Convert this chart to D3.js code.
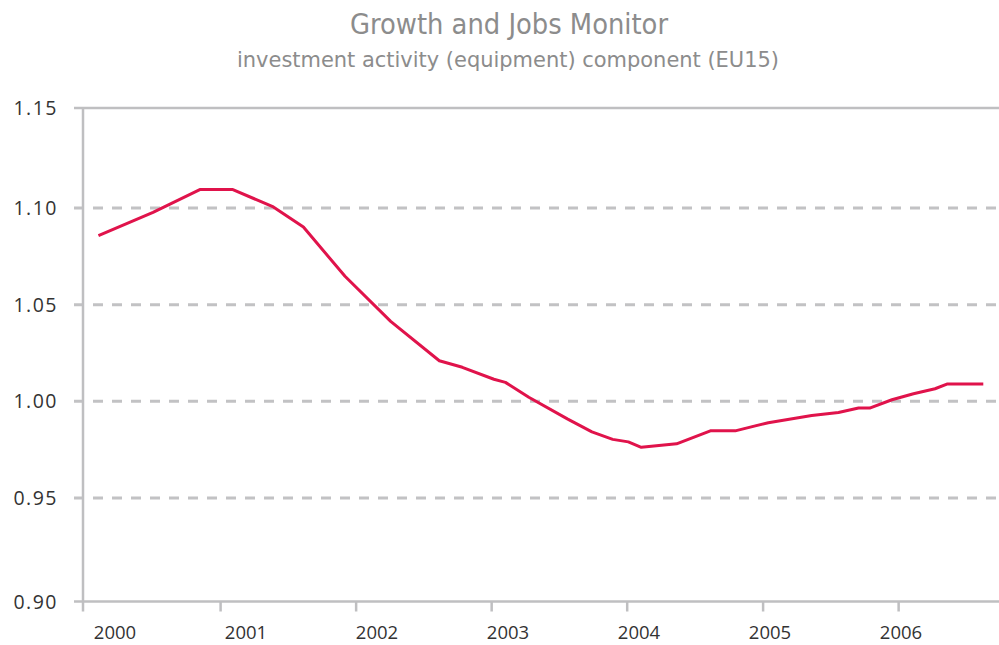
<!DOCTYPE html>
<html>
<head>
<meta charset="utf-8">
<script src="https://cdn.jsdelivr.net/npm/d3@7/dist/d3.min.js"></script>
<style>
  html, body { margin: 0; padding: 0; background: #ffffff; }
  svg { display: block; }
</style>
</head>
<body>
<svg id="chart" width="999" height="645"></svg>
<script>
// ---- Data ----
const title = "Growth and Jobs Monitor";
const subtitle = "investment activity (equipment) component (EU15)";

const dates = [
  "2000-02-07", "2000-07-03", "2000-11-06", "2001-02-03", "2001-05-23",
  "2001-08-12", "2001-12-02", "2002-04-04", "2002-08-13", "2002-10-14",
  "2003-01-07", "2003-02-07", "2003-04-11", "2003-07-25", "2003-09-28",
  "2003-11-23", "2004-01-04", "2004-02-08", "2004-05-13", "2004-08-12",
  "2004-10-18", "2004-12-11", "2005-01-15", "2005-05-12", "2005-07-23",
  "2005-09-15", "2005-10-15", "2005-12-14", "2006-02-10", "2006-04-09",
  "2006-05-11", "2006-08-17"
];
const values = [
  1.0858, 1.0978, 1.1096, 1.1096, 1.1006,
  1.0902, 1.0647, 1.0414, 1.0210, 1.0176,
  1.0114, 1.0098, 1.0021, 0.9908, 0.9842,
  0.9803, 0.9790, 0.9762, 0.9780, 0.9847,
  0.9847, 0.9873, 0.9889, 0.9927, 0.9942,
  0.9965, 0.9965, 1.0008, 1.0039, 1.0065,
  1.0089, 1.0089
];
const yTicks = [0.90, 0.95, 1.00, 1.05, 1.10, 1.15];
const xYears = [2000, 2001, 2002, 2003, 2004, 2005, 2006];

// ---- Layout ----
const svg = d3.select("#chart");
const parse = d3.timeParse("%Y-%m-%d");
const data = dates.map((d, i) => ({ date: parse(d), value: values[i] }));

const x = d3.scaleTime()
  .domain([new Date(2000, 0, 1), new Date(2006, 9, 1)])
  .range([84.7, 1000]);
const y = d3.scaleLinear()
  .domain([0.90, 1.15])
  .range([594.5, 111.5]);
const xLabel = d3.scaleLinear().domain([2000, 2006]).range([115, 901]);

const axisColor = "#bfbfc1";
const textFont = "'Open Sans', 'Liberation Sans', sans-serif";
const titleFont = "'Liberation Sans Narrow', 'DejaVu Sans Condensed', 'Open Sans', sans-serif";

// Title
svg.append("text")
  .attr("x", 509).attr("y", 34)
  .attr("text-anchor", "middle")
  .attr("font-family", titleFont)
  .attr("font-size", 28)
  .attr("fill", "#8c8c8c")
  .attr("textLength", 318)
  .attr("lengthAdjust", "spacingAndGlyphs")
  .text(title);
svg.append("text")
  .attr("x", 508).attr("y", 67)
  .attr("text-anchor", "middle")
  .attr("font-family", titleFont)
  .attr("font-size", 22)
  .attr("fill", "#8c8c8c")
  .attr("textLength", 542)
  .attr("lengthAdjust", "spacingAndGlyphs")
  .text(subtitle);

// Gridlines (dashed) for interior ticks
const gridTicks = yTicks.filter(t => t > 0.90 && t < 1.15);
svg.append("g").selectAll("line")
  .data(gridTicks)
  .join("line")
  .attr("x1", 74).attr("x2", 999)
  .attr("y1", d => y(d)).attr("y2", d => y(d))
  .attr("stroke", "#c2c2c4")
  .attr("stroke-width", 3)
  .attr("stroke-dasharray", "10 9");

// Top border line (1.15) and bottom axis (0.90)
const topY = y(1.15) - 3.5;
const botY = y(0.90) + 7;
svg.append("line")
  .attr("x1", 74).attr("x2", 999)
  .attr("y1", topY).attr("y2", topY)
  .attr("stroke", axisColor).attr("stroke-width", 2.5);
svg.append("line")
  .attr("x1", 74).attr("x2", 999)
  .attr("y1", botY).attr("y2", botY)
  .attr("stroke", axisColor).attr("stroke-width", 2.5);

// Y axis line
svg.append("line")
  .attr("x1", 83).attr("x2", 83)
  .attr("y1", topY).attr("y2", botY + 10)
  .attr("stroke", axisColor).attr("stroke-width", 2.5);

// X ticks
svg.append("g").selectAll("line")
  .data(xYears.slice(1))
  .join("line")
  .attr("x1", d => x(new Date(d, 0, 1))).attr("x2", d => x(new Date(d, 0, 1)))
  .attr("y1", botY).attr("y2", botY + 10)
  .attr("stroke", axisColor).attr("stroke-width", 2.5);

// X labels
svg.append("g").selectAll("text")
  .data(xYears)
  .join("text")
  .attr("x", d => xLabel(d))
  .attr("y", 639)
  .attr("text-anchor", "middle")
  .attr("font-family", textFont)
  .attr("font-size", 18.5)
  .attr("fill", "#333333")
  .text(d => d);

// Y labels
const yLabelPos = t => t === 1.15 ? topY : (t === 0.90 ? botY : y(t));
svg.append("g").selectAll("text")
  .data(yTicks)
  .join("text")
  .attr("x", 58)
  .attr("y", d => yLabelPos(d) + 7)
  .attr("text-anchor", "end")
  .attr("font-family", textFont)
  .attr("font-size", 19.5)
  .attr("letter-spacing", 1.5)
  .attr("fill", "#333333")
  .text(d => d.toFixed(2));

// Line
const line = d3.line()
  .x(d => x(d.date))
  .y(d => y(d.value));
svg.append("path")
  .datum(data)
  .attr("fill", "none")
  .attr("stroke", "#e0134b")
  .attr("stroke-width", 3)
  .attr("stroke-linejoin", "round")
  .attr("d", line);
</script>
</body>
</html>
